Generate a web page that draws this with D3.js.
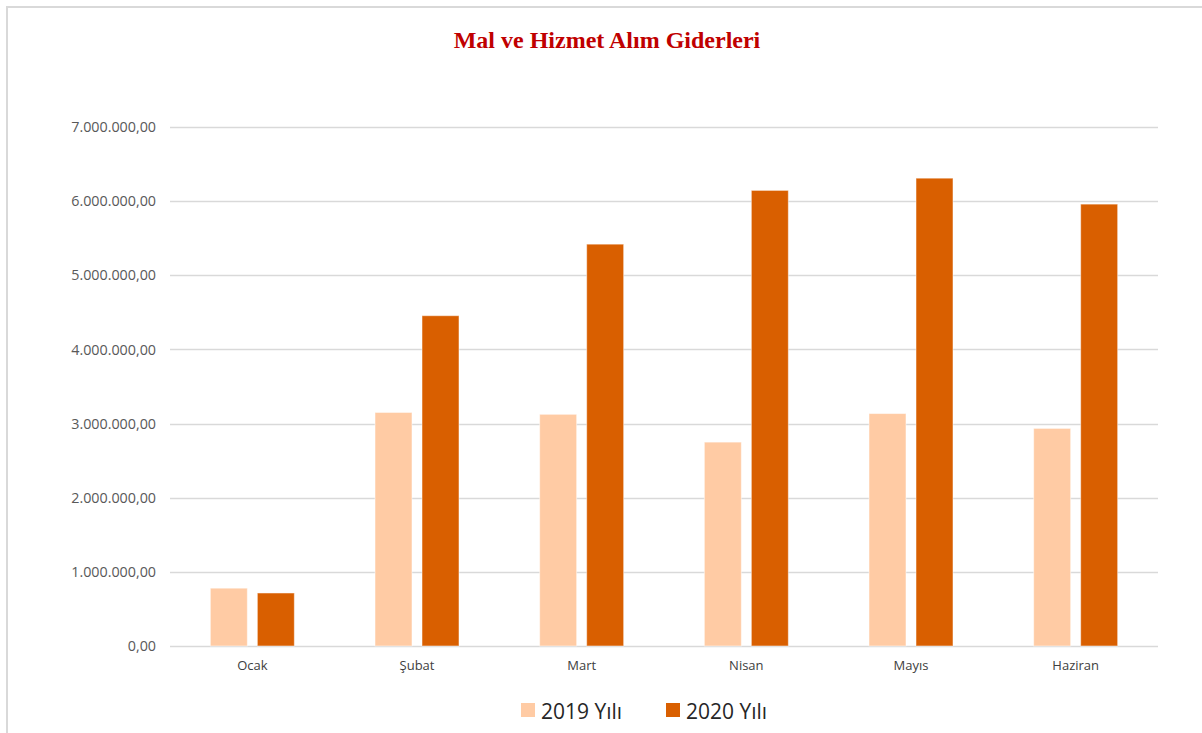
<!DOCTYPE html>
<html><head><meta charset="utf-8">
<script src="https://cdnjs.cloudflare.com/ajax/libs/d3/7.8.5/d3.min.js"></script>
<style>body{margin:0;background:#fff;}svg{display:block;}</style>
</head><body>
<svg id="c" width="1202" height="733"></svg>
<script>
const categories = ["Ocak", "Şubat", "Mart", "Nisan", "Mayıs", "Haziran"];
const seriesNames = ["2019 Yılı", "2020 Yılı"];
const values2019 = [780000, 3150000, 3125000, 2750000, 3135000, 2935000];
const values2020 = [715000, 4455000, 5420000, 6145000, 6310000, 5960000];
const yTicks = [0, 1000000, 2000000, 3000000, 4000000, 5000000, 6000000, 7000000];
const colors = ["#FFCBA4", "#D95F00"];
const title = "Mal ve Hizmet Alım Giderleri";

const svg = d3.select("#c");
svg.append("rect").attr("x", 7).attr("y", 7).attr("width", 1202).attr("height", 740)
  .attr("fill", "#fff").attr("stroke", "#d9d9d9").attr("stroke-width", 2);

svg.append("text").attr("x", 607).attr("y", 48).attr("text-anchor", "middle")
  .attr("font-family", "Liberation Serif, Times New Roman, serif").attr("font-weight", "bold")
  .attr("font-size", 24).attr("fill", "#C00000").text(title);

const pLeft = 170, pRight = 1158, pTop = 127, pBottom = 646;
const x = d3.scaleBand().domain(categories).range([pLeft, pRight]);
const y = d3.scaleLinear().domain([0, 7000000]).range([pBottom, pTop]);
const fmt = v => d3.formatLocale({decimal: ",", thousands: ".", grouping: [3], currency: ["", ""]}).format(",.2f")(v);

const grid = svg.append("g");
grid.selectAll("line").data(yTicks).join("line")
  .attr("x1", pLeft).attr("x2", pRight)
  .attr("y1", d => Math.round(y(d)) + 0.5).attr("y2", d => Math.round(y(d)) + 0.5)
  .attr("stroke", "#d9d9d9").attr("stroke-width", 1.5);

const yAxis = svg.append("g").attr("transform", `translate(${pLeft - 14},0)`)
  .call(d3.axisLeft(y).tickValues(yTicks).tickFormat(fmt).tickSize(0).tickPadding(0));
yAxis.select(".domain").remove();
yAxis.selectAll("text").attr("font-family", "Open Sans, Liberation Sans, sans-serif")
  .attr("font-size", 14.3).attr("fill", "#595959");

const xAxis = svg.append("g").attr("transform", `translate(0,${pBottom})`)
  .call(d3.axisBottom(x).tickSize(0).tickPadding(15));
xAxis.select(".domain").remove();
xAxis.selectAll("text").attr("font-family", "Open Sans, Liberation Sans, sans-serif")
  .attr("font-size", 13).attr("fill", "#404040");

const barW = 37, gap = 10;
const series = [values2019, values2020];
series.forEach((vals, si) => {
  svg.append("g").selectAll("rect").data(vals).join("rect")
    .attr("x", (d, i) => x(categories[i]) + x.bandwidth() / 2 + (si === 0 ? -gap / 2 - barW : gap / 2))
    .attr("y", d => y(d))
    .attr("width", barW)
    .attr("height", d => pBottom - y(d))
    .attr("fill", colors[si])
    .attr("stroke", "#fff").attr("stroke-opacity", 0.5).attr("stroke-width", 1);
});

const leg = svg.append("g");
const legX = [521, 666];
seriesNames.forEach((n, i) => {
  leg.append("rect").attr("x", legX[i]).attr("y", 703).attr("width", 14).attr("height", 14).attr("fill", colors[i]);
  leg.append("text").attr("x", legX[i] + 20).attr("y", 719)
    .attr("font-family", "Open Sans, Liberation Sans, sans-serif").attr("font-size", 21)
    .attr("fill", "#262626").text(n);
});
</script>
</body></html>
